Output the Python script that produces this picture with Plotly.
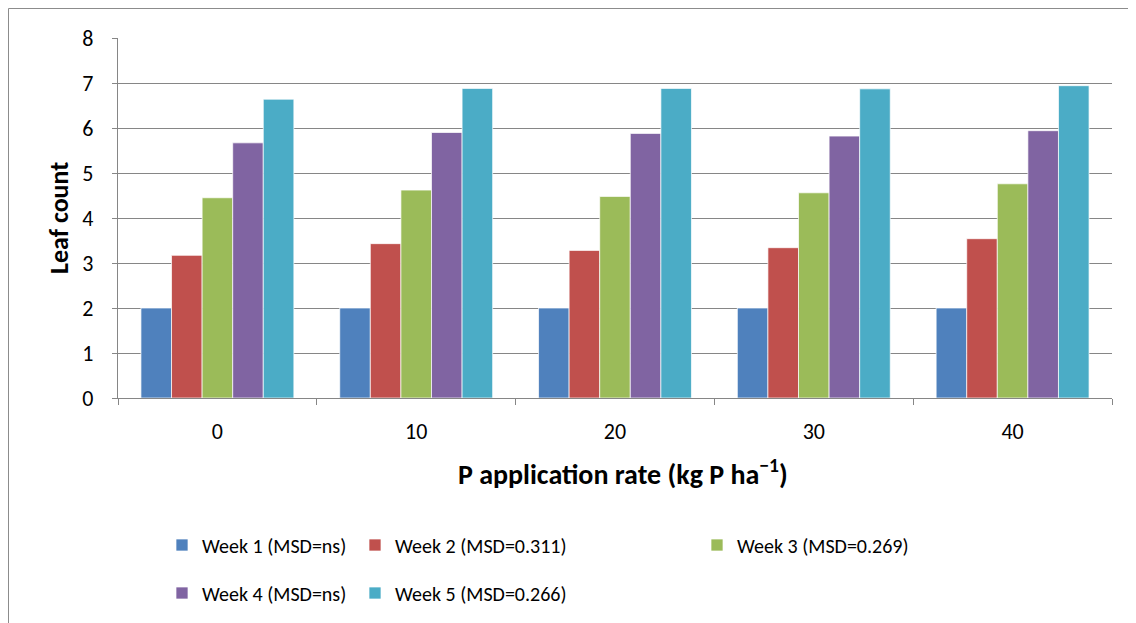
import plotly.graph_objects as go

rates = ['0', '10', '20', '30', '40']
week1 = [2.00, 2.00, 2.00, 2.00, 2.00]
week2 = [3.17, 3.43, 3.28, 3.34, 3.54]
week3 = [4.45, 4.62, 4.48, 4.56, 4.76]
week4 = [5.67, 5.90, 5.88, 5.82, 5.94]
week5 = [6.64, 6.88, 6.88, 6.87, 6.94]

series_names = ['Week 1 (MSD=ns)', 'Week 2 (MSD=0.311)', 'Week 3 (MSD=0.269)',
                'Week 4 (MSD=ns)', 'Week 5 (MSD=0.266)']
colors = ['#4F81BD', '#C0504D', '#9BBB59', '#8064A2', '#4BACC6']

FONT = "Calibri, Carlito, Lato, sans-serif"
GRID = '#868686'
W, H = 1136, 623
OFF = 8  # page body margin around the figure
# plot area in page pixels
L, R, T, B = 118, 1112, 38, 398

def px_x(x):
    return (x - L) / (R - L)

def px_y(y):
    return (B - y) / (B - T)

fig = go.Figure()
all_weeks = [week1, week2, week3, week4, week5]
legend_ids = ['legend', 'legend2', 'legend3', 'legend4', 'legend5']
for vals, name, col, lg in zip(all_weeks, series_names, colors, legend_ids):
    fig.add_trace(go.Bar(
        x=rates, y=vals, name=name, legend=lg,
        marker=dict(color=col, line=dict(color='rgba(255,255,255,0.7)', width=1)),
    ))

# legend text start positions (page px) and row centres
leg_pos = [(202, 545), (395, 545), (737, 545), (202, 593), (395, 593)]
leg_layout = {}
for lg, (tx, ty) in zip(legend_ids, leg_pos):
    leg_layout[lg] = dict(
        x=(tx - OFF - 40) / W, y=1 - (ty - OFF) / H, xref='container', yref='container',
        xanchor='left', yanchor='middle', orientation='h',
        bgcolor='rgba(0,0,0,0)', borderwidth=0,
        font=dict(family=FONT, size=20, color='#000000'),
    )

fig.update_layout(
    width=W, height=H,
    margin=dict(l=L - OFF, r=W - (R - OFF), t=T - OFF, b=H - (B - OFF), pad=0),
    plot_bgcolor='white', paper_bgcolor='white',
    font=dict(family=FONT, size=20, color='#000000'),
    barmode='group', bargap=1.5 / 6.5, bargroupgap=0,
    showlegend=True,
    xaxis=dict(
        type='category', showgrid=False, zeroline=False,
        showline=True, linecolor=GRID, linewidth=1.3,
        ticks='outside', tickson='boundaries', ticklen=6, tickcolor=GRID, tickwidth=1.3,
        tickfont=dict(family=FONT, size=22, color='#000000'),
        ticklabelstandoff=13,
    ),
    yaxis=dict(
        range=[0, 8], dtick=1, showgrid=True, gridcolor=GRID, gridwidth=1.3,
        zeroline=False, showline=True, linecolor=GRID, linewidth=1.3,
        ticks='outside', ticklen=5, tickcolor=GRID, tickwidth=1.3,
        tickfont=dict(family=FONT, size=22, color='#000000'),
        ticklabelstandoff=14,
    ),
    annotations=[
        dict(text='<b>Leaf count</b>', textangle=-90, xref='paper', yref='paper',
             x=px_x(59), y=0.5, xanchor='center', yanchor='middle', showarrow=False,
             font=dict(family=FONT, size=26, color='#000000')),
        dict(text='<b>P application rate (kg P ha<sup>\u22121</sup>)</b>', xref='paper', yref='paper',
             x=px_x(623), y=px_y(472), xanchor='center', yanchor='middle', showarrow=False,
             font=dict(family=FONT, size=28, color='#000000')),
    ],
    shapes=[
        dict(type='rect', xref='paper', yref='paper',
             x0=px_x(OFF + 0.5), x1=px_x(1150), y0=px_y(OFF + 0.5), y1=px_y(650),
             line=dict(color='#8C8C8C', width=1), fillcolor='rgba(0,0,0,0)', layer='below'),
    ],
)
fig.update_layout(**leg_layout)

fig.write_html("out.html")
